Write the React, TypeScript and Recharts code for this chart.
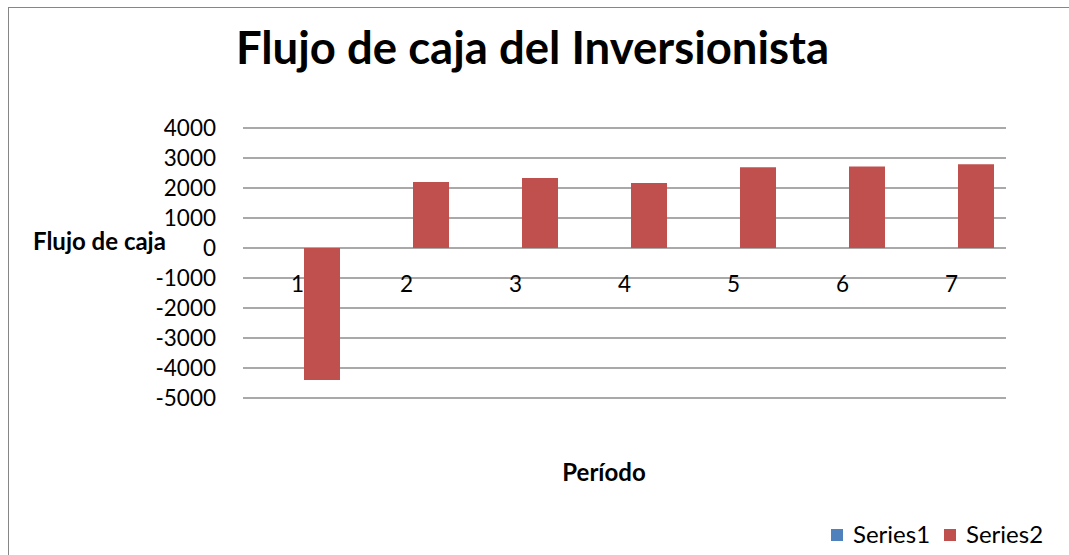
import React from "react";
import { BarChart, Bar, XAxis, YAxis, CartesianGrid } from "recharts";

// Periods and cash flows of the investor
const periods = ["1", "2", "3", "4", "5", "6", "7"];
const series1 = [0, 0, 0, 0, 0, 0, 0];
const series2 = [-4400, 2200, 2330, 2170, 2690, 2720, 2790];
const yTicks = [-5000, -4000, -3000, -2000, -1000, 0, 1000, 2000, 3000, 4000];
const seriesNames = ["Series1", "Series2"];
const seriesColors = ["#4F81BD", "#C0504D"];

const rows = periods.map((p, i) => ({
  period: p,
  Series1: series1[i],
  Series2: series2[i],
}));

const FONT = "Lato, 'Liberation Sans', sans-serif";

// Category labels sit just under the zero line, not at the bottom of the plot
const PeriodTick = (props: any) => {
  const { x, y, payload } = props;
  return (
    <text x={x} y={y - 106.5} textAnchor="middle" fontFamily={FONT} fontSize={22.5} fill="#000">
      {payload.value}
    </text>
  );
};

export default function App() {
  return (
    <div
      style={{
        position: "absolute",
        left: 8,
        top: 7,
        width: 1061,
        height: 548,
        boxSizing: "border-box",
        borderTop: "1px solid #868686",
        borderLeft: "1px solid #868686",
        background: "#fff",
        fontFamily: FONT,
      }}
    >
      <div
        style={{
          position: "absolute",
          left: 0,
          width: 1047,
          top: 11.5,
          textAlign: "center",
          fontSize: 45.5,
          lineHeight: 1.2,
          fontWeight: 700,
          whiteSpace: "nowrap",
        }}
      >
        Flujo de caja del Inversionista
      </div>

      <div
        style={{
          position: "absolute",
          left: 24,
          top: 218.8,
          fontSize: 24,
          lineHeight: 1.2,
          fontWeight: 700,
          whiteSpace: "nowrap",
        }}
      >
        Flujo de caja
      </div>

      <div
        style={{
          position: "absolute",
          left: 495,
          width: 200,
          top: 449.5,
          textAlign: "center",
          fontSize: 24,
          lineHeight: 1.2,
          fontWeight: 700,
          whiteSpace: "nowrap",
        }}
      >
        Período
      </div>

      <div style={{ position: "absolute", left: 0, top: 0 }}>
        <BarChart
          width={1060}
          height={547}
          data={rows}
          margin={{ top: 120, right: 63, bottom: 127, left: 154 }}
          barSize={36}
          barGap={12}
        >
          <CartesianGrid vertical={false} stroke="#8c8c8c" strokeWidth={1.5} />
          <XAxis
            dataKey="period"
            height={30}
            axisLine={false}
            tickLine={false}
            tickSize={0}
            tickMargin={0}
            tick={<PeriodTick />}
            interval={0}
          />
          <YAxis
            width={80}
            domain={[-5000, 4000]}
            ticks={yTicks}
            interval={0}
            axisLine={false}
            tickLine={false}
            tickSize={0}
            tickMargin={27}
            tick={{ fontFamily: FONT, fontSize: 22.5, fill: "#000" }}
          />
          <Bar dataKey="Series1" fill={seriesColors[0]} isAnimationActive={false} />
          <Bar dataKey="Series2" fill={seriesColors[1]} isAnimationActive={false} />
        </BarChart>
      </div>

      {seriesNames.map((name, i) => (
        <React.Fragment key={name}>
          <div
            style={{
              position: "absolute",
              left: i === 0 ? 822 : 935,
              top: 521,
              width: 12,
              height: 12,
              background: seriesColors[i],
            }}
          />
          <div
            style={{
              position: "absolute",
              left: i === 0 ? 844 : 957,
              top: 512.2,
              fontSize: 24,
              lineHeight: 1.2,
              whiteSpace: "nowrap",
            }}
          >
            {name}
          </div>
        </React.Fragment>
      ))}
    </div>
  );
}
